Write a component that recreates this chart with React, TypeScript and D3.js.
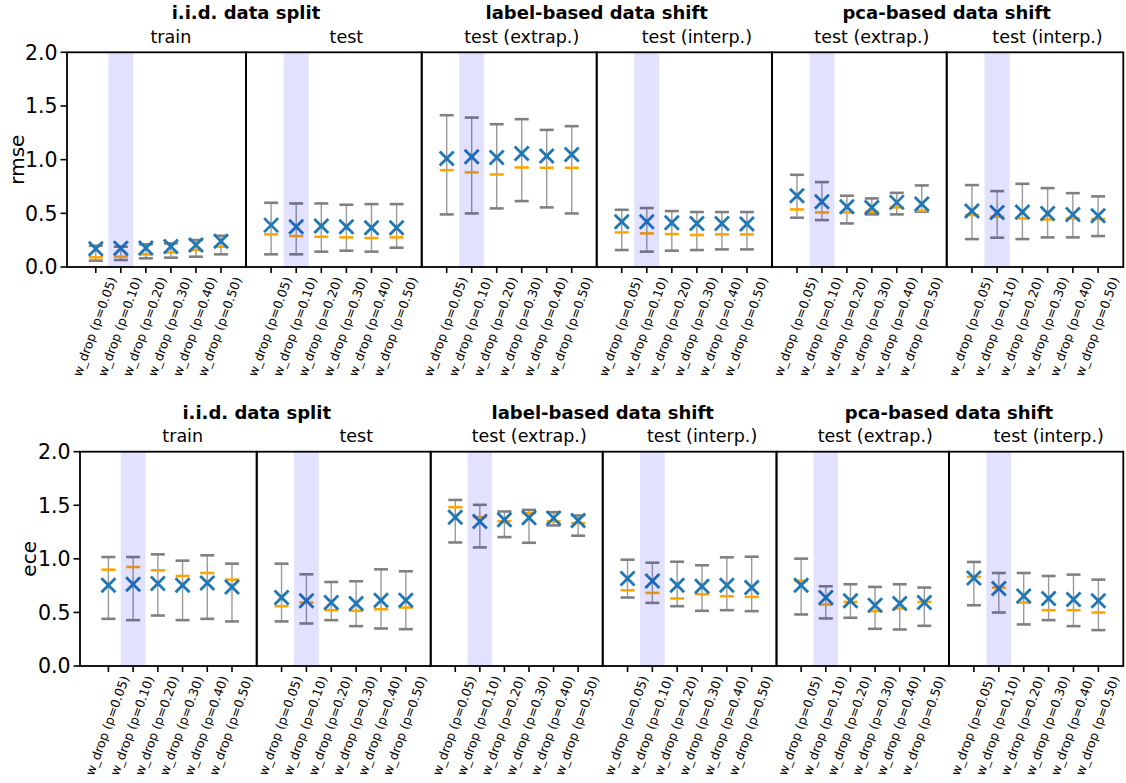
import React from "react";
import * as d3 from "d3";

// Dropout variants evaluated on every split
const categories = [
  "w_drop (p=0.05)",
  "w_drop (p=0.10)",
  "w_drop (p=0.20)",
  "w_drop (p=0.30)",
  "w_drop (p=0.40)",
  "w_drop (p=0.50)",
];
const highlighted = "w_drop (p=0.10)";

const groupTitles = ["i.i.d. data split", "label-based data shift", "pca-based data shift"];
const panelTitles = ["train", "test", "test (extrap.)", "test (interp.)", "test (extrap.)", "test (interp.)"];
const yTicks = [0, 0.5, 1.0, 1.5, 2.0];

// rmse per panel: mean (x marker), median (orange dash), min / max (whiskers)
const rmseMean = [
  [0.17, 0.174, 0.178, 0.19, 0.205, 0.24],
  [0.39, 0.375, 0.381, 0.375, 0.366, 0.366],
  [1.011, 1.026, 1.02, 1.057, 1.033, 1.048],
  [0.421, 0.421, 0.412, 0.406, 0.406, 0.4],
  [0.664, 0.608, 0.561, 0.555, 0.602, 0.586],
  [0.521, 0.508, 0.512, 0.499, 0.49, 0.477],
];
const rmseMedian = [
  [0.09, 0.096, 0.118, 0.136, 0.158, 0.189],
  [0.304, 0.288, 0.282, 0.276, 0.27, 0.276],
  [0.902, 0.881, 0.862, 0.927, 0.924, 0.924],
  [0.322, 0.313, 0.307, 0.298, 0.304, 0.304],
  [0.536, 0.508, 0.508, 0.515, 0.555, 0.524],
  [0.484, 0.468, 0.453, 0.443, 0.453, 0.447],
];
const rmseLow = [
  [0.059, 0.065, 0.081, 0.087, 0.096, 0.118],
  [0.118, 0.118, 0.143, 0.152, 0.143, 0.18],
  [0.49, 0.499, 0.546, 0.614, 0.555, 0.499],
  [0.158, 0.143, 0.152, 0.158, 0.164, 0.164],
  [0.459, 0.437, 0.406, 0.49, 0.49, 0.515],
  [0.26, 0.273, 0.26, 0.276, 0.276, 0.288],
];
const rmseHigh = [
  [0.198, 0.189, 0.211, 0.22, 0.251, 0.291],
  [0.598, 0.592, 0.592, 0.58, 0.586, 0.586],
  [1.414, 1.392, 1.33, 1.377, 1.277, 1.312],
  [0.533, 0.549, 0.521, 0.512, 0.512, 0.512],
  [0.859, 0.791, 0.664, 0.639, 0.691, 0.76],
  [0.763, 0.707, 0.775, 0.735, 0.688, 0.658],
];

// ece per panel
const eceMean = [
  [0.753, 0.763, 0.769, 0.753, 0.775, 0.738],
  [0.639, 0.608, 0.592, 0.583, 0.614, 0.614],
  [1.389, 1.349, 1.364, 1.383, 1.38, 1.358],
  [0.816, 0.794, 0.753, 0.744, 0.753, 0.732],
  [0.753, 0.639, 0.608, 0.567, 0.583, 0.592],
  [0.822, 0.723, 0.654, 0.63, 0.62, 0.608],
];
const eceMedian = [
  [0.899, 0.924, 0.893, 0.84, 0.868, 0.806],
  [0.558, 0.592, 0.521, 0.515, 0.53, 0.546],
  [1.482, 1.389, 1.352, 1.426, 1.349, 1.333],
  [0.707, 0.682, 0.63, 0.67, 0.651, 0.645],
  [0.794, 0.574, 0.598, 0.512, 0.537, 0.598],
  [0.831, 0.732, 0.592, 0.521, 0.521, 0.499],
];
const eceLow = [
  [0.44, 0.428, 0.471, 0.428, 0.44, 0.416],
  [0.416, 0.397, 0.428, 0.372, 0.35, 0.344],
  [1.153, 1.107, 1.203, 1.15, 1.312, 1.216],
  [0.639, 0.589, 0.558, 0.515, 0.521, 0.512],
  [0.481, 0.444, 0.45, 0.347, 0.341, 0.375],
  [0.567, 0.499, 0.388, 0.428, 0.372, 0.335],
];
const eceHigh = [
  [1.017, 1.017, 1.042, 0.983, 1.033, 0.955],
  [0.955, 0.856, 0.784, 0.791, 0.902, 0.884],
  [1.55, 1.504, 1.442, 1.457, 1.436, 1.405],
  [0.992, 0.964, 0.973, 0.94, 1.014, 1.02],
  [1.002, 0.744, 0.763, 0.738, 0.763, 0.732],
  [0.971, 0.868, 0.868, 0.84, 0.853, 0.806],
];

const FONT = "'DejaVu Sans', sans-serif";
const W = 1126;
const H = 783;

type RowSpec = {
  label: string;
  edges: number[];
  top: number;
  bottom: number;
  titleY: number;
  subY: number;
  labelX: number;
  mean: number[][];
  median: number[][];
  low: number[][];
  high: number[][];
};

const rows: RowSpec[] = [
  {
    label: "rmse",
    edges: [67, 246, 421.7, 596.7, 772, 946.7, 1123.3],
    top: 52.3,
    bottom: 267,
    titleY: 19,
    subY: 43,
    labelX: 17,
    mean: rmseMean,
    median: rmseMedian,
    low: rmseLow,
    high: rmseHigh,
  },
  {
    label: "ece",
    edges: [80, 256.7, 430.7, 602.7, 776.5, 949, 1123.3],
    top: 451.7,
    bottom: 666,
    titleY: 419,
    subY: 441.5,
    labelX: 29,
    mean: eceMean,
    median: eceMedian,
    low: eceLow,
    high: eceHigh,
  },
];

function Row({ spec }: { spec: RowSpec }) {
  const y = d3.scaleLinear().domain([0, 2]).range([spec.bottom, spec.top]);
  const hiIdx = categories.indexOf(highlighted);
  const capHalf = 7;
  const dashHalf = 7;
  const xHalf = 7;

  const panels = panelTitles.map((title, p) => {
    const left = spec.edges[p];
    const right = spec.edges[p + 1];
    const x = d3
      .scaleLinear()
      .domain([p === 0 ? -0.15 : 0, categories.length + 1])
      .range([left, right]);
    const pos = (i: number) => x(i + 1);
    const center = (x(0.5) + x(categories.length + 0.5)) / 2;
    return (
      <g key={p}>
        {/* whiskers */}
        {categories.map((c, i) => {
          const cx = pos(i);
          const yl = y(spec.low[p][i]);
          const yh = y(spec.high[p][i]);
          return (
            <g key={c} stroke="#808080">
              <line x1={cx} x2={cx} y1={yl} y2={yh} strokeWidth={1.4} strokeOpacity={0.8} />
              <line x1={cx - capHalf} x2={cx + capHalf} y1={yl} y2={yl} strokeWidth={2.6} />
              <line x1={cx - capHalf} x2={cx + capHalf} y1={yh} y2={yh} strokeWidth={2.6} />
            </g>
          );
        })}
        {/* medians */}
        {categories.map((c, i) => {
          const cx = pos(i);
          const ym = y(spec.median[p][i]);
          return (
            <line key={c} x1={cx - dashHalf} x2={cx + dashHalf} y1={ym} y2={ym} stroke="#ffa500" strokeWidth={2.6} />
          );
        })}
        {/* means */}
        {categories.map((c, i) => {
          const cx = pos(i);
          const ym = y(spec.mean[p][i]);
          return (
            <g key={c} stroke="#1f77b4" strokeWidth={2.8}>
              <line x1={cx - xHalf} x2={cx + xHalf} y1={ym - xHalf} y2={ym + xHalf} />
              <line x1={cx - xHalf} x2={cx + xHalf} y1={ym + xHalf} y2={ym - xHalf} />
            </g>
          );
        })}
        {/* highlighted configuration */}
        <rect
          x={x(hiIdx + 0.5)}
          y={spec.top}
          width={x(hiIdx + 1.5) - x(hiIdx + 0.5)}
          height={spec.bottom - spec.top}
          fill="#0000ff"
          fillOpacity={0.115}
        />
        {/* frame */}
        <rect x={left} y={spec.top} width={right - left} height={spec.bottom - spec.top} fill="none" stroke="#000" strokeWidth={1.8} />
        {/* x ticks and labels */}
        {categories.map((c, i) => {
          const cx = pos(i);
          return (
            <g key={c}>
              <line x1={cx} x2={cx} y1={spec.bottom} y2={spec.bottom + 6} stroke="#000" strokeWidth={1.6} />
              <text
                transform={`translate(${cx + 21},${spec.bottom + 12}) rotate(-70)`}
                textAnchor="end"
                fontSize={12.5}
                fontFamily={FONT}
                fill="#000"
              >
                {c}
              </text>
            </g>
          );
        })}
        <text x={center + 12.5} y={spec.subY} textAnchor="middle" fontSize={17.5} fontFamily={FONT} fill="#000">
          {title}
        </text>
      </g>
    );
  });

  const axisX = spec.edges[0];
  return (
    <g>
      {panels}
      {groupTitles.map((t, g) => (
        <text
          key={t}
          x={spec.edges[g * 2 + 1]}
          y={spec.titleY}
          textAnchor="middle"
          fontSize={18}
          fontWeight="bold"
          fontFamily={FONT}
          fill="#000"
        >
          {t}
        </text>
      ))}
      {yTicks.map((v) => (
        <g key={v}>
          <line x1={axisX - 6.5} x2={axisX} y1={y(v)} y2={y(v)} stroke="#000" strokeWidth={1.6} />
          <text x={axisX - 9.5} y={y(v)} dy="0.36em" textAnchor="end" fontSize={20.5} fontFamily={FONT} fill="#000">
            {d3.format(".1f")(v)}
          </text>
        </g>
      ))}
      <text
        transform={`translate(${spec.labelX},${(spec.top + spec.bottom) / 2}) rotate(-90)`}
        dy="0.36em"
        textAnchor="middle"
        fontSize={20}
        fontFamily={FONT}
        fill="#000"
      >
        {spec.label}
      </text>
    </g>
  );
}

export default function App() {
  return (
    <svg
      width={W}
      height={H}
      viewBox={`0 0 ${W} ${H}`}
      style={{ position: "absolute", left: 0, top: 0, background: "#fff" }}
    >
      <rect width={W} height={H} fill="#fff" />
      {rows.map((r) => (
        <Row key={r.label} spec={r} />
      ))}
    </svg>
  );
}
